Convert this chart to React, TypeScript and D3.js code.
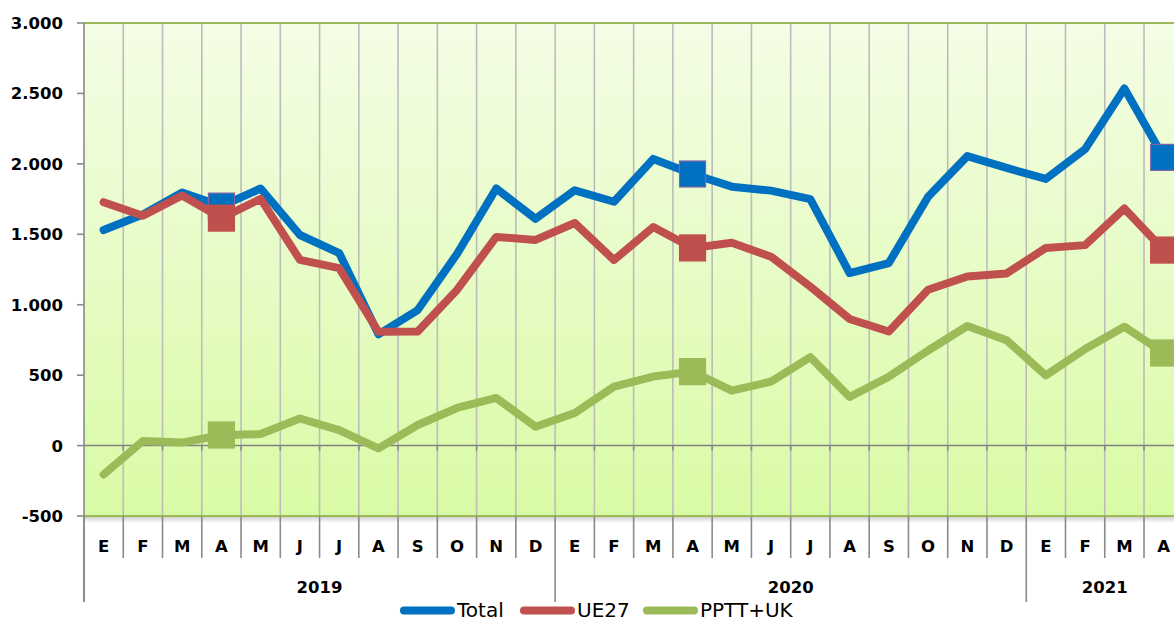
import React from "react";
import * as d3 from "d3";

const months = ["E","F","M","A","M","J","J","A","S","O","N","D","E","F","M","A","M","J","J","A","S","O","N","D","E","F","M","A"];
const years = [
  { label: "2019", start: 0, end: 12 },
  { label: "2020", start: 12, end: 24 },
  { label: "2021", start: 24, end: 28 },
];
const total = [1530,1640,1796,1700,1825,1495,1367,790,962,1360,1825,1610,1812,1731,2035,1928,1838,1810,1750,1225,1296,1767,2055,1971,1893,2105,2535,2046];
const ue27 = [1728,1632,1775,1615,1752,1318,1260,808,810,1105,1481,1460,1580,1317,1552,1403,1440,1341,1128,899,810,1106,1200,1222,1403,1423,1683,1388];
const pptt = [-205,33,21,75,82,192,110,-20,146,267,338,134,231,418,490,525,390,454,628,345,489,675,849,748,498,686,844,657];
const yTicks = [-500,0,500,1000,1500,2000,2500,3000];
const markerIdx = [3,15,27];

const series = [
  { name: "Total", values: total, color: "#0070C0", stroke: "#8064A2" },
  { name: "UE27", values: ue27, color: "#C0504D", stroke: "#C0504D" },
  { name: "PPTT+UK", values: pptt, color: "#9BBB59", stroke: "#9BBB59" },
];

const W = 1174, H = 619;
const left = 84, top = 23, bottom = 516;
const step = 39.26;

const loc = d3.formatLocale({ decimal: ",", thousands: ".", grouping: [3], currency: ["", ""], minus: "-" });
const fmt = loc.format(",d");

export default function App() {
  const x = d3.scaleBand<number>().domain(d3.range(months.length)).range([left, left + step * months.length]).paddingInner(0).paddingOuter(0);
  const y = d3.scaleLinear().domain([-500, 3000]).range([bottom, top]);
  const cx = (i: number) => (x(i) as number) + x.bandwidth() / 2;
  const line = d3.line<number>().x((_, i) => cx(i)).y((v) => y(v));
  const right = left + step * months.length;
  const boundaries = d3.range(months.length + 1).map((i) => left + i * step);
  const yearBounds = new Set(years.flatMap((yy) => [yy.start, yy.end]));
  const font = "'DejaVu Sans', Verdana, sans-serif";
  const ms = 26;

  return (
    <svg width={W} height={H} style={{ position: "absolute", left: 0, top: 0, background: "#fff" }}>
      <defs>
        <linearGradient id="bg" x1="0" y1="0" x2="0" y2="1">
          <stop offset="0" stopColor="#f4fde6" />
          <stop offset="1" stopColor="#d9fba5" />
        </linearGradient>
        <linearGradient id="sh" x1="0" y1="0" x2="0" y2="1">
          <stop offset="0" stopColor="#9a9a9a" stopOpacity="0.45" />
          <stop offset="1" stopColor="#9a9a9a" stopOpacity="0" />
        </linearGradient>
      </defs>
      <rect x={left} y={top} width={right - left} height={bottom - top} fill="url(#bg)" />
      <rect x={left} y={bottom + 1} width={right - left} height={6} fill="url(#sh)" />
      {boundaries.slice(1).map((bx, i) => (
        <line key={"g" + i} x1={bx} x2={bx} y1={top} y2={bottom} stroke="#bcbcbc" strokeWidth={1.6} />
      ))}
      {/* zero line */}
      <line x1={left} x2={right} y1={y(0)} y2={y(0)} stroke="#808080" strokeWidth={1.6} />
      {boundaries.slice(1).map((bx, i) => (
        <line key={"zt" + i} x1={bx} x2={bx} y1={y(0)} y2={y(0) + 5} stroke="#8a8a8a" strokeWidth={1.6} />
      ))}
      <line x1={left} x2={right} y1={top} y2={top} stroke="#9BBB59" strokeWidth={2} />
      <line x1={left} x2={right} y1={bottom} y2={bottom} stroke="#9BBB59" strokeWidth={2} />
      {/* category ticks below */}
      {boundaries.map((bx, i) => (
        <line key={"ct" + i} x1={bx} x2={bx} y1={bottom} y2={yearBounds.has(i) ? 602 : 558} stroke="#8a8a8a" strokeWidth={1.6} />
      ))}
      {/* left axis */}
      <line x1={left} x2={left} y1={top} y2={602} stroke="#8a8a8a" strokeWidth={1.6} />
      {yTicks.map((t) => (
        <g key={"yt" + t}>
          <line x1={77} x2={left} y1={y(t)} y2={y(t)} stroke="#8a8a8a" strokeWidth={1.6} />
          <text x={63} y={y(t)} dy="0.36em" textAnchor="end" fontFamily={font} fontWeight="bold" fontSize={16.5} fill="#000">{fmt(t)}</text>
        </g>
      ))}
      {months.map((m, i) => (
        <text key={"m" + i} x={cx(i)} y={552} textAnchor="middle" fontFamily={font} fontWeight="bold" fontSize={16.5} fill="#000">{m}</text>
      ))}
      {years.map((yy) => (
        <text key={yy.label} x={(left + yy.start * step + left + yy.end * step) / 2} y={593} textAnchor="middle" fontFamily={font} fontWeight="bold" fontSize={16.5} fill="#000">{yy.label}</text>
      ))}
      {series.map((s) => (
        <g key={s.name}>
          <path d={line(s.values) as string} fill="none" stroke={s.color} strokeWidth={8} strokeLinejoin="round" strokeLinecap="round" />
          {markerIdx.map((i) => (
            <rect key={i} x={cx(i) - ms / 2} y={y(s.values[i]) - ms / 2} width={ms} height={ms} fill={s.color} stroke={s.stroke} strokeWidth={1.2} />
          ))}
        </g>
      ))}
      {/* legend */}
      {[
        { s: series[0], x0: 400 },
        { s: series[1], x0: 520 },
        { s: series[2], x0: 643 },
      ].map(({ s, x0 }) => (
        <g key={"lg" + s.name}>
          <line x1={x0 + 4} x2={x0 + 51} y1={610.5} y2={610.5} stroke={s.color} strokeWidth={8} strokeLinecap="round" />
          <text x={x0 + 57} y={617} fontFamily={font} fontSize={20} fill="#000">{s.name}</text>
        </g>
      ))}
    </svg>
  );
}
